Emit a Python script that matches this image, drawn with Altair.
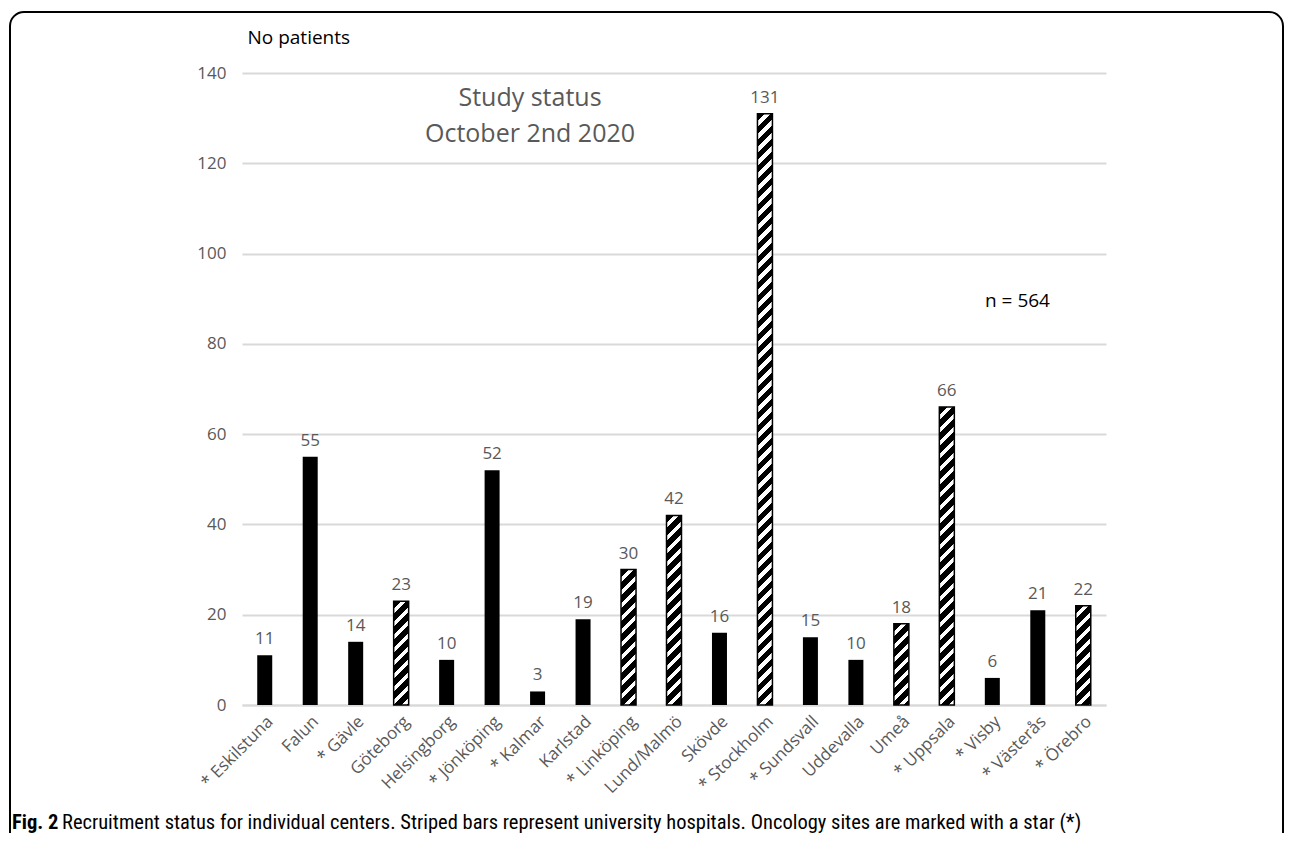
import altair as alt
import pandas as pd

# ---------------- data ----------------
sites = ["* Eskilstuna", "Falun", "* Gävle", "Göteborg", "Helsingborg", "* Jönköping",
         "* Kalmar", "Karlstad", "* Linköping", "Lund/Malmö", "Skövde", "* Stockholm",
         "* Sundsvall", "Uddevalla", "Umeå", "* Uppsala", "* Visby", "* Västerås", "* Örebro"]
patients = [11, 55, 14, 23, 10, 52, 3, 19, 30, 42, 16, 131, 15, 10, 18, 66, 6, 21, 22]
university = [False, False, False, True, False, False, False, False, True, True, False,
              True, False, False, True, True, False, False, True]
y_ticks = [0, 20, 40, 60, 80, 100, 120, 140]
y_max = 140

title_lines = ["Study status", "October 2nd 2020"]
n_text = "n = 564"
caption_bold = "Fig. 2"
caption_rest = ("Recruitment status for individual centers. Striped bars represent university "
                "hospitals. Oncology sites are marked with a star (*)")

df = pd.DataFrame({"site": sites, "patients": patients, "uni": university})

# ---------------- layout ----------------
W, H = 864, 632
PAD = {"left": 234, "top": 65, "right": 178, "bottom": 128}
BAR_W = 15
PERIOD = 13.0
BLACK_FRAC = 0.6
FONT = "Open Sans"
CAP_FONT = "Roboto Condensed, DejaVu Sans Condensed, serif"
GRAY = "#595959"


def stripe_fill(value):
    """Diagonal '/' stripes as a hard-stop linear gradient in bar bbox units."""
    h = value * H / y_max
    w = BAR_W
    k = w / h
    m = (w + h) / (h * (1 + k * k))
    L = w + h
    stops = []
    pos = 0.0
    while pos < L:
        a = pos / L
        b = min((pos + PERIOD * BLACK_FRAC) / L, 1.0)
        c = min((pos + PERIOD) / L, 1.0)
        stops += [{"offset": a, "color": "black"}, {"offset": b, "color": "black"},
                  {"offset": b, "color": "white"}, {"offset": c, "color": "white"}]
        pos += PERIOD
    return {"gradient": "linear", "x1": 0, "y1": 0, "x2": m * k, "y2": m, "stops": stops}


x_enc = alt.X("site:N", sort=sites,
              scale=alt.Scale(paddingInner=0, paddingOuter=0),
              axis=alt.Axis(title=None, labelAngle=-45, ticks=False, labelOverlap=False,
                            domainColor="#d9d9d9", domainWidth=2,
                            labelFont=FONT, labelFontSize=17, labelColor=GRAY,
                            labelPadding=8, labelLimit=300))
y_enc = alt.Y("patients:Q", scale=alt.Scale(domain=[0, y_max], nice=False),
              axis=alt.Axis(values=y_ticks, grid=True, gridColor="#d9d9d9", gridWidth=2,
                            domain=False, ticks=False, labelFont=FONT, labelFontSize=17,
                            labelColor=GRAY, labelPadding=16,
                            title="No patients", titleAngle=0, titleAlign="left",
                            titleBaseline="alphabetic", titleX=5, titleY=-30,
                            titleFont=FONT, titleFontSize=19, titleFontWeight="normal",
                            titleColor="black"))

base = alt.Chart(df)

solid = base.transform_filter("!datum.uni").mark_bar(size=BAR_W, color="black").encode(
    x=x_enc, y=y_enc)

striped_layers = []
for s, v, u in zip(sites, patients, university):
    if u:
        striped_layers.append(
            base.transform_filter(alt.datum.site == s)
            .mark_bar(size=BAR_W, fill=stripe_fill(v), stroke="black", strokeWidth=1.5)
            .encode(x=x_enc, y=y_enc))

labels = base.mark_text(dy=-11, baseline="alphabetic", font=FONT, fontSize=17,
                        color=GRAY).encode(x=x_enc, y=y_enc, text="patients:Q")

one = alt.Chart(alt.Data(values=[{}]))

title_txt = one.mark_text(text=title_lines, lineHeight=36, align="center",
                          baseline="alphabetic", font=FONT, fontSize=25,
                          color=GRAY).encode(x=alt.value(288), y=alt.value(33))
n_txt = one.mark_text(text=n_text, align="left", baseline="alphabetic", font=FONT,
                      fontSize=19, color="black").encode(x=alt.value(743), y=alt.value(234))
cap1 = one.mark_text(text=caption_bold, align="left", baseline="alphabetic",
                     font=CAP_FONT, fontWeight="bold", fontSize=20.5,
                     color="black").encode(x=alt.value(-230), y=alt.value(756))
cap2 = one.mark_text(text=caption_rest, align="left", baseline="alphabetic",
                     font=CAP_FONT, fontSize=20.5,
                     color="black").encode(x=alt.value(-180), y=alt.value(756))
frame = one.mark_rect(fill="white", fillOpacity=0, stroke="black", strokeWidth=2,
                      cornerRadius=14).encode(x=alt.value(-232), x2=alt.value(1041),
                                              y=alt.value(-61), y2=alt.value(800))

chart = alt.layer(frame, solid, *striped_layers, labels, title_txt, n_txt, cap1, cap2).properties(
    width=W, height=H, padding=PAD,
    autosize=alt.AutoSizeParams(type="none"),
    background="white",
).configure_view(stroke=None)

chart.save("out.html", embed_options={"renderer": "svg", "actions": False})
